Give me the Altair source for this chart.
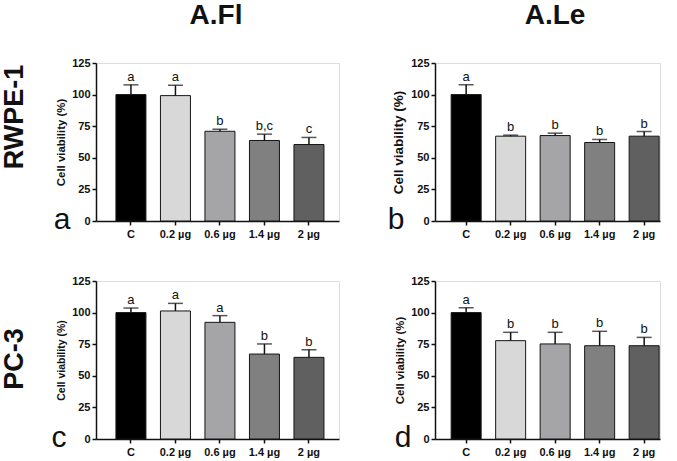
import altair as alt
import pandas as pd

doses = ["C", "0.2 µg", "0.6 µg", "1.4 µg", "2 µg"]
bar_colors = ["#000000", "#d8d8d8", "#a5a5a8", "#808080", "#606060"]

# RWPE-1, A.Fl
fl_rwpe_val = [100, 99.2, 71.0, 63.7, 60.5]
fl_rwpe_err = [7.7, 8.2, 1.6, 5.0, 5.6]
fl_rwpe_let = ["a", "a", "b", "b,c", "c"]
# RWPE-1, A.Le
le_rwpe_val = [100, 67.1, 67.6, 62.1, 67.1]
le_rwpe_err = [7.7, 0.8, 1.9, 2.4, 3.7]
le_rwpe_let = ["a", "b", "b", "b", "b"]
# PC-3, A.Fl
fl_pc3_val = [100, 101.3, 92.3, 67.2, 64.6]
fl_pc3_err = [3.6, 6.0, 5.3, 8.0, 6.0]
fl_pc3_let = ["a", "a", "a", "b", "b"]
# PC-3, A.Le
le_pc3_val = [100, 77.8, 75.2, 73.8, 73.8]
le_pc3_err = [3.8, 6.6, 9.2, 11.4, 6.6]
le_pc3_let = ["a", "b", "b", "b", "b"]

y_ticks = [0, 25, 50, 75, 100, 125]
y_title = "Cell viability (%)"
col_titles = ["A.Fl", "A.Le"]
row_titles = ["RWPE-1", "PC-3"]
panel_letters = ["a", "b", "c", "d"]

FONT = "Liberation Sans"
H = 158


def panel(vals, errs, lets, width, po, align, title_size, letter, letter_x,
          col_title=None, row_title=None, row_y=0):
    df = pd.DataFrame({"dose": doses, "value": vals, "err": errs, "letter": lets})
    base = alt.Chart(df).transform_calculate(top="datum.value + datum.err")
    xenc = alt.X(
        "dose:N", sort=doses,
        scale=alt.Scale(paddingInner=0.326, paddingOuter=po, align=align),
        axis=alt.Axis(title=None, labelAngle=0, labelFontSize=11, labelFontWeight="bold",
                      labelFont=FONT, tickSize=4, labelPadding=3, domainWidth=1.5,
                      tickWidth=1.5, domainColor="#111", tickColor="#111", labelColor="#111"),
    )

    def yenc(field):
        return alt.Y(
            field, scale=alt.Scale(domain=[0, 125]),
            axis=alt.Axis(values=y_ticks, title=y_title, grid=False, labelFontSize=11,
                          labelFontWeight="bold", labelFont=FONT, tickSize=4, labelPadding=2,
                          domainWidth=1.5, tickWidth=1.5, domainColor="#111", tickColor="#111",
                          labelColor="#111", titleFont=FONT, titleFontSize=title_size,
                          titleFontWeight="bold", titleColor="#111", titlePadding=5),
        )

    bars = base.mark_bar(stroke="#151515", strokeWidth=1).encode(
        x=xenc, y=yenc("value:Q"),
        color=alt.Color("dose:N", scale=alt.Scale(domain=doses, range=bar_colors), legend=None),
    )
    rule = base.mark_rule(strokeWidth=1.5, color="#111").encode(
        x=xenc, y=yenc("value:Q"), y2="top:Q")
    cap = base.mark_tick(size=15, thickness=1.5, color="#111", orient="horizontal").encode(
        x=xenc, y=yenc("top:Q"))
    txt = base.mark_text(dy=-4, fontSize=13, baseline="alphabetic", font=FONT, color="#111").encode(
        x=xenc, y=yenc("top:Q"), text="letter:N")
    layers = [bars, rule, cap, txt]
    lt = alt.Chart(pd.DataFrame({"t": [letter]})).mark_text(
        fontSize=30, font=FONT, align="center", baseline="alphabetic", color="#111"
    ).encode(text="t:N", x=alt.value(letter_x), y=alt.value(H + 8))
    layers.append(lt)
    if col_title:
        ct = alt.Chart(pd.DataFrame({"t": [col_title]})).mark_text(
            fontSize=28, fontWeight="bold", font=FONT, align="center", baseline="alphabetic",
            color="#111"
        ).encode(text="t:N", x=alt.value(120), y=alt.value(-39))
        layers.append(ct)
    if row_title:
        rt = alt.Chart(pd.DataFrame({"t": [row_title]})).mark_text(
            fontSize=27, fontWeight="bold", font=FONT, align="center", baseline="middle",
            angle=270, color="#111"
        ).encode(text="t:N", x=alt.value(-81), y=alt.value(row_y))
        layers.append(rt)
    return alt.layer(*layers).properties(width=width, height=H)


pa = panel(fl_rwpe_val, fl_rwpe_err, fl_rwpe_let, 243, 0.393, 0.57, 11.4, panel_letters[0], -34,
           col_title=col_titles[0], row_title=row_titles[0], row_y=54)
pb = panel(le_rwpe_val, le_rwpe_err, le_rwpe_let, 225, 0.191, 0.95, 13.5, panel_letters[1], -39,
           col_title=col_titles[1])
pc = panel(fl_pc3_val, fl_pc3_err, fl_pc3_let, 243, 0.393, 0.57, 10.5, panel_letters[2], -37,
           row_title=row_titles[1], row_y=78)
pd_ = panel(le_pc3_val, le_pc3_err, le_pc3_let, 225, 0.191, 0.95, 11.4, panel_letters[3], -32)

chart = alt.concat(
    pa, pb, pc, pd_, columns=2, spacing=alt.RowColnumber(row=60, column=96), bounds="flush"
).properties(
    padding={"left": 0, "top": 1, "right": 0, "bottom": 0}
).configure_view(stroke=None).configure(font=FONT)

chart.save("out.html", embed_options={"renderer": "svg", "actions": False})
